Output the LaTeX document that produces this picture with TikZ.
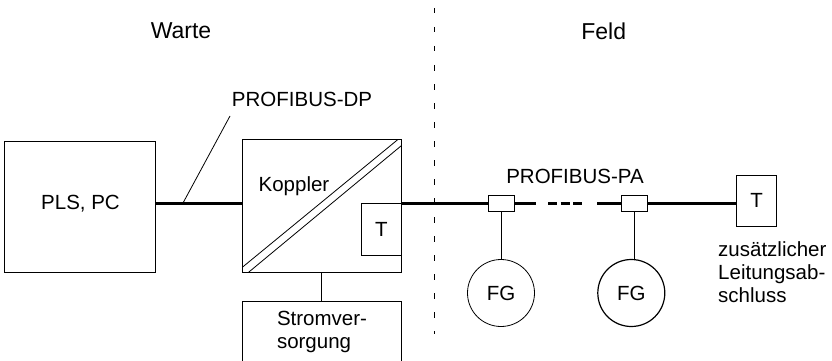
\documentclass[tikz,border=0pt]{standalone}
\usepackage{fontspec}
\setmainfont{Liberation Sans}
\tikzset{
	bus/.style={line width=3pt},
	thinline/.style={line width=0.8pt},
	box/.style={draw, thinline, inner sep=0pt},
	tap/.style={box, fill=white, minimum width=26pt, minimum height=16pt},
	device/.style={box, circle, minimum size=67pt},
	title/.style={font=\fontsize{23}{26}\selectfont}
}
\begin{document}
\begin{tikzpicture}[x=1pt, y=-1pt, font=\fontsize{20.5}{23.3}\selectfont]
	\useasboundingbox (0,0) rectangle (832,361);
	% Warte
	\node[box, minimum width=151pt, minimum height=131.4pt] (pls) at (79.8,207) {};
	\node (plstext) at (80.5,203.5) {PLS, PC};
	\node[box, minimum width=159pt, minimum height=133.4pt] (koppler) at (321.8,206) {};
	\node[box, minimum width=40pt, minimum height=51.5pt, anchor=north east] (term) at (koppler.east |- 0,203.2) {T};
	\node[box, minimum width=159pt, minimum height=66pt, anchor=north] (strom) at (321.8,301) {};
	\node[align=left] (stromtext) at (322,332) {Stromver-\\sorgung};
	\node (kopplertext) at (294,186) {Koppler};
	\coordinate (diagAa) at (242.3,267.3);
	\coordinate (diagAb) at (397.3,140);
	\coordinate (diagBa) at (248.3,272.5);
	\coordinate (diagBb) at (401.3,145.7);
	\draw[thinline] (diagAa) -- (diagAb);
	\draw[thinline] (diagBa) -- (diagBb);
	\node[title] (warte) at (181,31) {Warte};
	\node[title] (feld) at (603.7,31) {Feld};
	\node (dplabel) at (302,99) {PROFIBUS-DP};
	\node (palabel) at (575,176.5) {PROFIBUS-PA};
	\coordinate (dpfoot) at (183,203);
	\coordinate (dphead) at (230,116);
	\draw[thinline] (dpfoot) -- (dphead);
	\draw[bus] (pls.east |- dpfoot) -- (koppler.west |- dpfoot);
	\draw[thinline] (koppler.south) -- (strom.north);
	% Trennlinie
	\coordinate (sepa) at (434.3,8);
	\coordinate (sepb) at (434.3,334);
	\draw[thinline, dash pattern=on 5.5pt off 13.5pt] (sepa) -- (sepb);
	% Feld
	\node[tap] (tapa) at (501,203) {};
	\node[tap] (tapb) at (634,203) {};
	\node[box, minimum width=40.4pt, minimum height=51.7pt] (termb) at (756.5,200.8) {T};
	\node[device] (fga) at (501,293) {FG};
	\node[device, line width=1.2pt] (fgb) at (631.3,293) {FG};
	\draw[thinline] (tapa) -- (fga);
	\draw[thinline] (tapb) -- (tapb |- fgb.north);
	\coordinate (busa) at (535.7,203);
	\coordinate (dasha) at (548,203);
	\coordinate (dashb) at (582,203);
	\coordinate (busb) at (597.3,203);
	\draw[bus] (koppler.east |- tapa) -- (tapa.west);
	\draw[bus] (tapa.east) -- (busa);
	\draw[bus, dash pattern=on 9pt off 3.5pt] (dasha) -- (dashb);
	\draw[bus] (busb) -- (tapb.west);
	\draw[bus] (tapb.east) -- (termb.west |- tapb);
	\node[anchor=north west, align=left] (abschluss) at (714.7,238) {zusätzlicher\\Leitungsab-\\schluss};
\end{tikzpicture}
\end{document}
